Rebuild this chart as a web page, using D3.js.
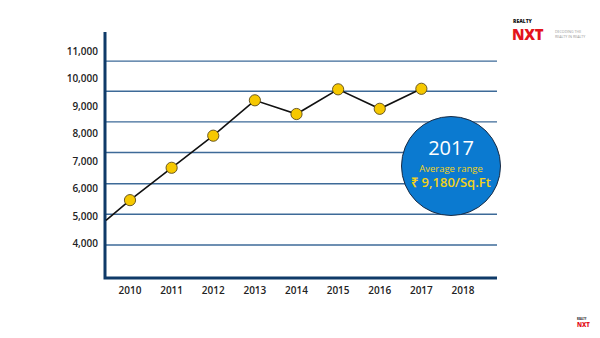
<!DOCTYPE html>
<html>
<head>
<meta charset="utf-8">
<script src="https://cdn.jsdelivr.net/npm/d3@7"></script>
<style>
  html, body { margin: 0; padding: 0; background: #ffffff; }
  svg { display: block; }
</style>
</head>
<body>
<svg id="chart" width="600" height="338"></svg>
<script>
// ---- data ----
const years = [2010, 2011, 2012, 2013, 2014, 2015, 2016, 2017];
const prices = [5610, 6790, 7960, 9250, 8750, 9650, 8940, 9670];
const xTickLabels = ["2010", "2011", "2012", "2013", "2014", "2015", "2016", "2017", "2018"];
const yTickValues = [4000, 5000, 6000, 7000, 8000, 9000, 10000, 11000];
const gridValues = [3975, 5095, 6210, 7345, 8465, 9580, 10680];
const leadInYear = 2009.4;
const leadInValue = 4870;
const badgeYear = "2017";
const badgeLabel = "Average range";
const badgeValue = "₹ 9,180/Sq.Ft";

// ---- layout ----
const svg = d3.select("#chart");
const axisX = 105, axisTop = 32, axisBottom = 278, axisRight = 497;
const gridLeft = 106, gridRight = 497;

const x = d3.scaleLinear().domain([2010, 2018]).range([130, 463]);
const y = d3.scaleLinear().domain([4000, 11000]).range([244.3, 52.3]);

const navy = "#0f3a68";
const gridColor = "#3d6a98";

// gridlines
svg.append("g").selectAll("line").data(gridValues).join("line")
  .attr("x1", gridLeft).attr("x2", gridRight)
  .attr("y1", d => y(d)).attr("y2", d => y(d))
  .attr("stroke", gridColor).attr("stroke-width", 1.4);

// y tick labels
svg.append("g").selectAll("text").data(yTickValues).join("text")
  .attr("x", 98).attr("y", d => y(d))
  .attr("text-anchor", "end").attr("dominant-baseline", "middle")
  .attr("font-family", "'Open Sans', sans-serif").attr("font-size", 10)
  .attr("font-weight", 600)
  .attr("fill", "#222").text(d => d3.format(",")(d));

// x tick labels
svg.append("g").selectAll("text").data(xTickLabels).join("text")
  .attr("x", d => x(+d)).attr("y", 291)
  .attr("text-anchor", "middle").attr("dominant-baseline", "middle")
  .attr("font-family", "'Open Sans', sans-serif").attr("font-size", 10)
  .attr("font-weight", 600)
  .attr("fill", "#222").text(d => d);

// axes frame
svg.append("path")
  .attr("d", `M${axisX},${axisTop} V${axisBottom} H${axisRight}`)
  .attr("fill", "none").attr("stroke", navy).attr("stroke-width", 3);

// line
const pts = [[leadInYear, leadInValue]].concat(years.map((yr, i) => [yr, prices[i]]));
const lineGen = d3.line().x(d => Math.max(x(d[0]), axisX + 1)).y(d => y(d[1]));
svg.append("path").datum(pts)
  .attr("d", lineGen)
  .attr("fill", "none").attr("stroke", "#111").attr("stroke-width", 1.6);

// markers
svg.append("g").selectAll("circle").data(years).join("circle")
  .attr("cx", d => x(d)).attr("cy", (d, i) => y(prices[i]))
  .attr("r", 5.6)
  .attr("fill", "#f6c800").attr("stroke", "#5a4a1a").attr("stroke-width", 0.9);

// badge
const badge = svg.append("g").attr("transform", "translate(451,166)");
badge.append("circle").attr("r", 49.5)
  .attr("fill", "#0b7ad0").attr("stroke", "#1b2c44").attr("stroke-width", 1);
badge.append("text").attr("y", -11).attr("text-anchor", "middle")
  .attr("font-family", "'Open Sans', sans-serif").attr("font-size", 20)
  .attr("fill", "#ffffff").text(badgeYear);
badge.append("text").attr("y", 5.5).attr("text-anchor", "middle")
  .attr("font-family", "'Open Sans', sans-serif").attr("font-size", 9.5)
  .attr("fill", "#f2d21a").text(badgeLabel);
badge.append("text").attr("y", 21).attr("text-anchor", "middle")
  .attr("font-family", "'Open Sans', sans-serif").attr("font-size", 13)
  .attr("font-weight", 600)
  .attr("fill", "#f2d21a").text(badgeValue);

// logo top right
const logo = svg.append("g");
logo.append("text").attr("x", 513).attr("y", 22.5)
  .attr("font-family", "'Open Sans', sans-serif").attr("font-size", 5)
  .attr("font-weight", 800).attr("fill", "#111").text("REALTY");
logo.append("text").attr("x", 512).attr("y", 40)
  .attr("font-family", "'Open Sans', sans-serif").attr("font-size", 15)
  .attr("font-weight", 800).attr("fill", "#e3141c").attr("letter-spacing", -0.3).text("NXT");
logo.append("text").attr("x", 555).attr("y", 33)
  .attr("font-family", "'Open Sans', sans-serif").attr("font-size", 3.6)
  .attr("fill", "#999").text("DECODING THE");
logo.append("text").attr("x", 555).attr("y", 38)
  .attr("font-family", "'Open Sans', sans-serif").attr("font-size", 3.6)
  .attr("fill", "#999").text("REALTY IN REALTY");

// logo bottom right
svg.append("text").attr("x", 577).attr("y", 319.5)
  .attr("font-family", "'Open Sans', sans-serif").attr("font-size", 2.5)
  .attr("font-weight", 800).attr("fill", "#333").text("REALTY");
svg.append("text").attr("x", 577).attr("y", 327)
  .attr("font-family", "'Open Sans', sans-serif").attr("font-size", 6)
  .attr("font-weight", 800).attr("fill", "#e3141c").text("NXT");
</script>
</body>
</html>
